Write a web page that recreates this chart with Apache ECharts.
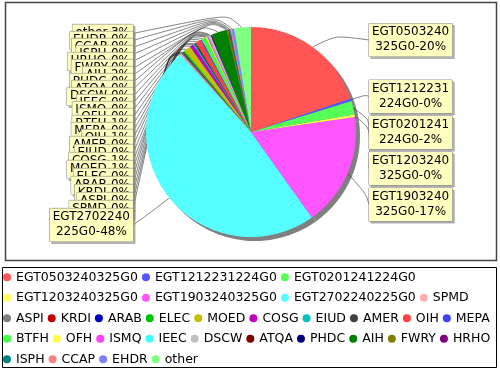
<!DOCTYPE html>
<html>
<head>
<meta charset="utf-8">
<script src="https://cdn.jsdelivr.net/npm/echarts@6/dist/echarts.min.js"></script>
<style>html,body{margin:0;padding:0;background:#fff}#c{width:500px;height:370px}</style>
</head>
<body>
<div id="c"></div>
<script>
// ---- data ----
const categories = [
  'EGT0503240325G0','EGT1212231224G0','EGT0201241224G0','EGT1203240325G0','EGT1903240325G0','EGT2702240225G0',
  'SPMD','ASPI','KRDI','ARAB','ELEC','MOED','COSG','EIUD','AMER','OIH','MEPA',
  'BTFH','OFH','ISMQ','IEEC','DSCW','ATQA','PHDC','AIH','FWRY','HRHO',
  'ISPH','CCAP','EHDR','other'
];
const values = [
  19.8, 0.4, 2.1, 0.4, 17.4, 48.0,
  0.2, 0.2, 0.1, 0.1, 0.3, 1.0, 0.6, 0.2, 0.3, 0.8, 0.2,
  0.7, 0.2, 0.2, 0.1, 0.3, 0.1, 0.1, 2.4, 0.2, 0.1,
  0.2, 0.2, 0.4, 2.6
];
const colors = [
  '#FF5555','#5555FF','#55FF55','#FFFF55','#FF55FF','#55FFFF',
  '#FFAFAF','#808080','#C00000','#0000C0','#00C000','#C0C000','#C000C0','#00C0C0','#404040','#FF4040','#4040FF',
  '#40FF40','#FFFF40','#FF40FF','#40FFFF','#C0C0C0','#800000','#000080','#008000','#808000','#800080',
  '#008080','#FF8080','#8080FF','#80FF80'
];

// ---- layout ----
const FONT = 'DejaVu Sans';
const VIEW_TOP = 22, VIEW_H = 226;
const CX = 251, CY = 132, R = 105;
const LABEL_GAP = 13;

const chart = echarts.init(document.getElementById('c'), null, {renderer: 'canvas'});

function labelText(p) {
  const n = p.name;
  const pct = Math.round(p.percent) + '%';
  if (n.length > 10) {
    return '{c|' + n.slice(0, 10) + '}\n{c|' + n.slice(10) + '-' + pct + '}';
  }
  return '{c|' + n + '-' + pct + '}';
}

// Reverse order + counter-clockwise gives the same slice geometry,
// but lets lower labels paint over the ones above (as in the reference).
const idx = categories.map((_, i) => i).reverse();
const pieData = idx.map(i => ({name: categories[i], value: values[i], itemStyle: {color: colors[i]}}));
const shadowData = idx.map(i => ({value: values[i]}));

chart.setOption({
  animation: false,
  backgroundColor: '#ffffff',
  graphic: [
    {type: 'rect', shape: {x: 5.5, y: 2.5, width: 491, height: 258}, style: {fill: 'none', stroke: '#444', lineWidth: 1.5}, z: 0, silent: true},
    {type: 'rect', shape: {x: 2.5, y: 267.5, width: 494, height: 100}, style: {fill: 'none', stroke: '#000', lineWidth: 1}, z: 0, silent: true}
  ],
  legend: {
    left: 3, top: 269, width: 490, padding: 0,
    itemGap: 4, itemWidth: 8, itemHeight: 8, icon: 'circle',
    selectedMode: false,
    data: categories,
    textStyle: {fontFamily: FONT, fontSize: 12.5, lineHeight: 16.5, color: '#000'}
  },
  series: [
    {
      type: 'pie', name: 'main',
      left: 0, top: VIEW_TOP, width: 500, height: VIEW_H,
      center: [CX, CY - VIEW_TOP], radius: R,
      startAngle: 90, clockwise: false,
      z: 3,
      avoidLabelOverlap: true,
      emphasis: {disabled: true},
      data: pieData,
      itemStyle: {borderWidth: 0},
      label: {
        show: true, position: 'outside', alignTo: 'labelLine',
        distanceToLabelLine: 0, edgeDistance: 2,
        formatter: labelText,
        backgroundColor: '#FFFFC0', borderColor: '#808080', borderWidth: 0.5,
        padding: [1, 3, 2, 3],
        shadowColor: 'rgba(140,140,140,0.6)', shadowOffsetX: 2, shadowOffsetY: 2, shadowBlur: 0,
        rich: {c: {align: 'center', fontFamily: FONT, fontSize: 12, lineHeight: 15, color: '#000'}}
      },
      labelLine: {show: true, length: 10, length2: 8, smooth: 0.6, lineStyle: {color: '#333', width: 0.6}},
      labelLayout: function (params) {
        const r = params.labelRect;
        const isLeft = r.x + r.width / 2 < CX;
        const x = isLeft ? CX - R - LABEL_GAP : CX + R + LABEL_GAP;
        let pts = null;
        if (params.labelLinePoints) {
          const p0 = params.labelLinePoints[0];
          const dx = p0[0] - CX, dy = p0[1] - CY;
          const len = Math.sqrt(dx * dx + dy * dy) || 1;
          const ux = dx / len, uy = dy / len;
          const ly = r.y + r.height / 2;
          pts = [
            [CX + ux * R * 0.9, CY + uy * R * 0.9],
            [CX + ux * (R + 16), CY + uy * (R + 16)],
            [x, ly]
          ];
        }
        return {x: x, align: isLeft ? 'right' : 'left', labelLinePoints: pts, hideOverlap: false};
      }
    },
    {
      type: 'pie', name: 'shadow',
      left: 0, top: VIEW_TOP, width: 500, height: VIEW_H,
      center: [CX + 4, CY + 4 - VIEW_TOP], radius: R,
      startAngle: 90, clockwise: false,
      z: 1, silent: true,
      data: shadowData,
      itemStyle: {color: '#808080', borderWidth: 0},
      label: {show: false}, labelLine: {show: false},
      emphasis: {disabled: true}
    }
  ]
});
</script>
</body>
</html>
